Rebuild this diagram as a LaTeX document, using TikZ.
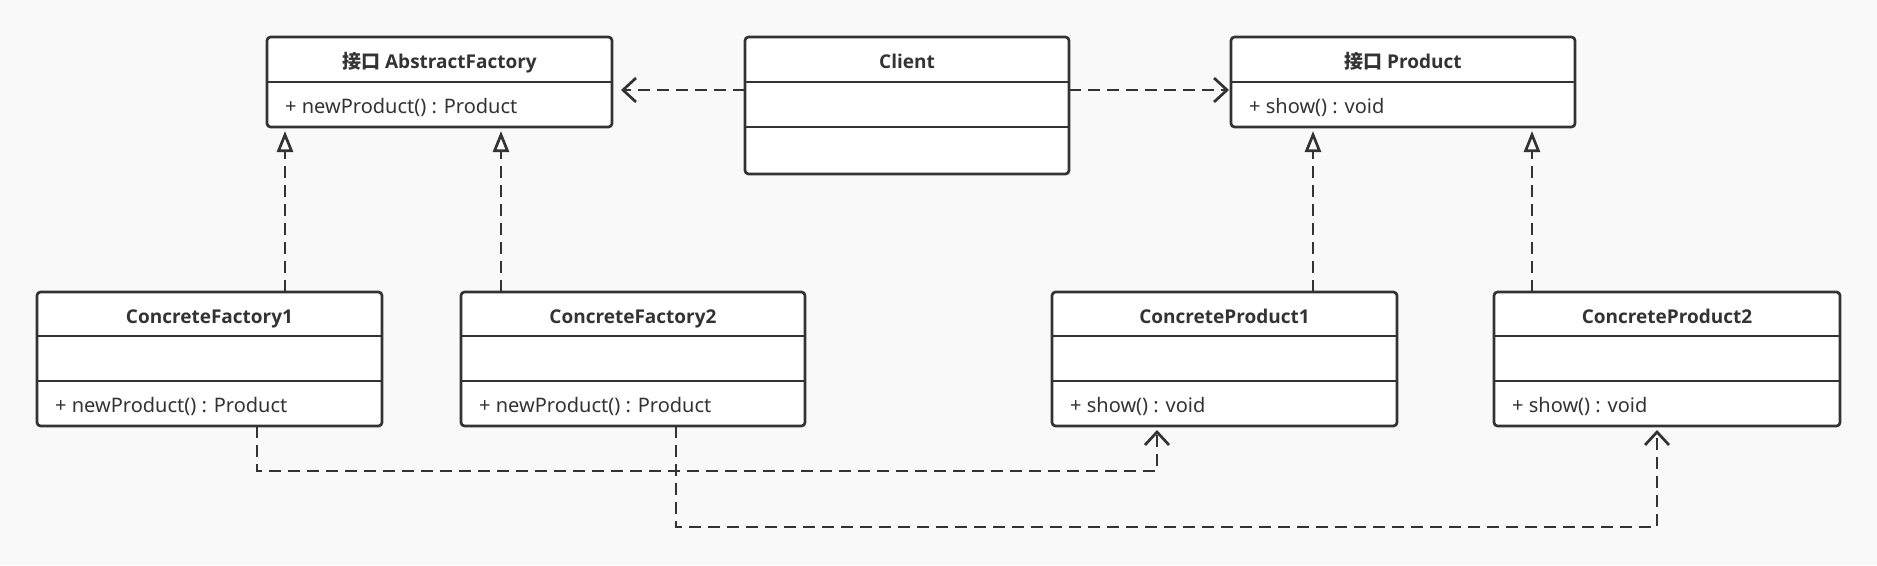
\documentclass[tikz,border=0pt]{standalone}
\usepackage{fontspec}
\setmainfont{Noto Sans}
\newfontfamily\titlefont{Open Sans}
\newfontfamily\cjkfont{Noto Sans CJK SC}
\usetikzlibrary{arrows.meta,calc}
\definecolor{bg}{HTML}{F9F9F9}
\definecolor{lc}{HTML}{333333}
\definecolor{tc}{HTML}{333333}
\tikzset{
  umlbox/.style={draw=lc, fill=white, line width=2.7pt, rounded corners=3.5pt, inner sep=0pt, outer sep=0pt, anchor=north west},
  divider/.style={draw=lc, line width=2.7pt},
  ctitle/.style={font=\titlefont\fontsize{19}{21}\selectfont\bfseries, text=tc, anchor=base, inner sep=0pt},
  member/.style={font=\fontsize{20}{22}\selectfont, text=tc, anchor=base west, inner sep=0pt},
  depend/.style={draw=lc, line width=2.5pt, dash pattern=on 12pt off 7pt, -{Straight Barb[length=13pt, width=24pt, line width=2.7pt]}},
  realize/.style={draw=lc, line width=2.5pt, dash pattern=on 12pt off 7pt, -{Triangle[open, length=21pt, width=16pt, line width=2.7pt]}}
}
\begin{document}
\begin{tikzpicture}[x=1pt,y=-1pt]
\fill[bg] (0,0) rectangle (1877,565);
\useasboundingbox (0,0) rectangle (1877,565);

% top row
\node[umlbox, minimum width=345pt, minimum height=90pt] (af) at (267,37) {};
\draw[divider] ($(af.north west)+(0,45)$) -- ($(af.north east)+(0,45)$);
\node[ctitle] (afT) at ($(af.north)+(0,31)$) {{\cjkfont\bfseries 接口} AbstractFactory};
\node[member] (afM) at ($(af.north west)+(18,76)$) {+ newProduct() : Product};

\node[umlbox, minimum width=324pt, minimum height=137pt] (client) at (745,37) {};
\draw[divider] ($(client.north west)+(0,45)$) -- ($(client.north east)+(0,45)$);
\draw[divider] ($(client.north west)+(0,90)$) -- ($(client.north east)+(0,90)$);
\node[ctitle] (clientT) at ($(client.north)+(0,31)$) {Client};

\node[umlbox, minimum width=344pt, minimum height=90pt] (prod) at (1231,37) {};
\draw[divider] ($(prod.north west)+(0,45)$) -- ($(prod.north east)+(0,45)$);
\node[ctitle] (prodT) at ($(prod.north)+(0,31)$) {{\cjkfont\bfseries 接口} Product};
\node[member] (prodM) at ($(prod.north west)+(18,76)$) {+ show() : void};

% bottom row
\node[umlbox, minimum width=345pt, minimum height=134pt] (cf1) at (37,292) {};
\draw[divider] ($(cf1.north west)+(0,44)$) -- ($(cf1.north east)+(0,44)$);
\draw[divider] ($(cf1.north west)+(0,89)$) -- ($(cf1.north east)+(0,89)$);
\node[ctitle] (cf1T) at ($(cf1.north)+(0,31)$) {ConcreteFactory1};
\node[member] (cf1M) at ($(cf1.north west)+(18,120)$) {+ newProduct() : Product};

\node[umlbox, minimum width=344pt, minimum height=134pt] (cf2) at (461,292) {};
\draw[divider] ($(cf2.north west)+(0,44)$) -- ($(cf2.north east)+(0,44)$);
\draw[divider] ($(cf2.north west)+(0,89)$) -- ($(cf2.north east)+(0,89)$);
\node[ctitle] (cf2T) at ($(cf2.north)+(0,31)$) {ConcreteFactory2};
\node[member] (cf2M) at ($(cf2.north west)+(18,120)$) {+ newProduct() : Product};

\node[umlbox, minimum width=345pt, minimum height=134pt] (cp1) at (1052,292) {};
\draw[divider] ($(cp1.north west)+(0,44)$) -- ($(cp1.north east)+(0,44)$);
\draw[divider] ($(cp1.north west)+(0,89)$) -- ($(cp1.north east)+(0,89)$);
\node[ctitle] (cp1T) at ($(cp1.north)+(0,31)$) {ConcreteProduct1};
\node[member] (cp1M) at ($(cp1.north west)+(18,120)$) {+ show() : void};

\node[umlbox, minimum width=346pt, minimum height=134pt] (cp2) at (1494,292) {};
\draw[divider] ($(cp2.north west)+(0,44)$) -- ($(cp2.north east)+(0,44)$);
\draw[divider] ($(cp2.north west)+(0,89)$) -- ($(cp2.north east)+(0,89)$);
\node[ctitle] (cp2T) at ($(cp2.north)+(0,31)$) {ConcreteProduct2};
\node[member] (cp2M) at ($(cp2.north west)+(18,120)$) {+ show() : void};

% dependencies from client
\draw[depend, shorten >=9pt] ($(client.north west)+(0,53)$) -- ($(af.north east)+(0,53)$);
\draw[depend, shorten >=2pt] ($(client.north east)+(0,53)$) -- ($(prod.north west)+(0,53)$);

% realizations
\draw[realize, shorten >=4pt] ($(cf1.north west)+(248,0)$) -- ($(af.south west)+(18,0)$);
\draw[realize, shorten >=4pt] ($(cf2.north west)+(40,0)$) -- ($(af.south west)+(234,0)$);
\draw[realize, shorten >=4pt] ($(cp1.north west)+(261,0)$) -- ($(prod.south west)+(82,0)$);
\draw[realize, shorten >=4pt] ($(cp2.north west)+(38,0)$) -- ($(prod.south west)+(301,0)$);

% factory -> product dependencies
\draw[depend, shorten >=4pt] ($(cf1.south west)+(220,0)$) -- ++(0,45) -| ($(cp1.south west)+(105,0)$);
\draw[depend, shorten >=4pt] ($(cf2.south west)+(215,0)$) -- ++(0,101) -| ($(cp2.south west)+(163,0)$);
\end{tikzpicture}
\end{document}
